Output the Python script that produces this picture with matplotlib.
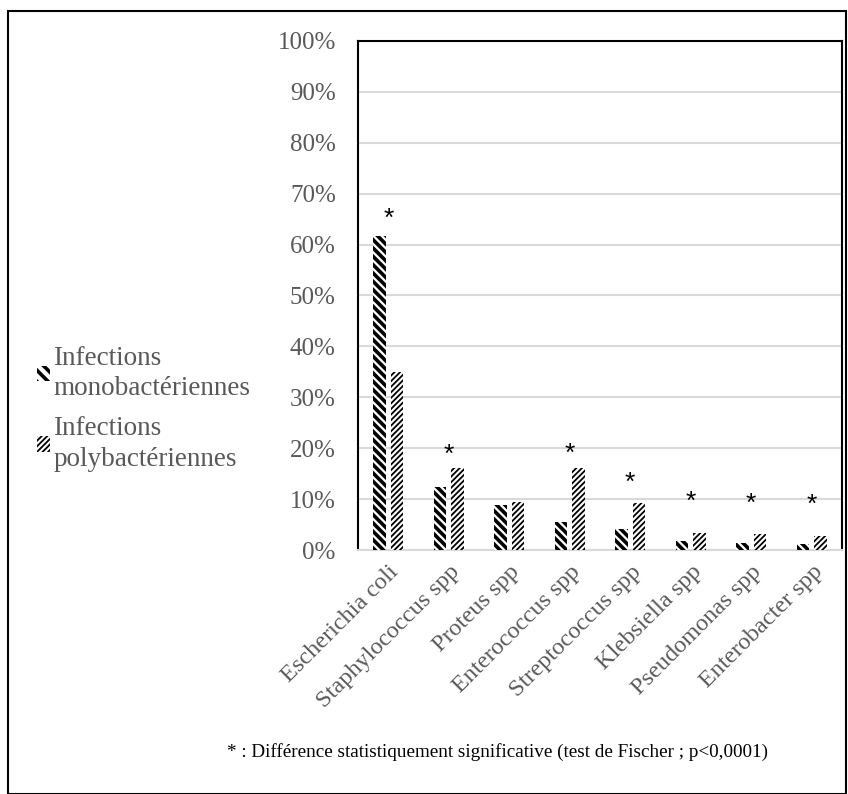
import matplotlib.pyplot as plt
import matplotlib.patches as mpatches
from matplotlib.legend_handler import HandlerPatch
import numpy as np

plt.rcParams['font.family'] = ['Liberation Serif', 'DejaVu Serif']

categories = ['Escherichia coli', 'Staphylococcus spp', 'Proteus spp', 'Enterococcus spp',
              'Streptococcus spp', 'Klebsiella spp', 'Pseudomonas spp', 'Enterobacter spp']
mono = [61.6, 12.4, 8.8, 5.5, 4.1, 1.8, 1.4, 1.1]
poly = [35.0, 16.1, 9.4, 16.1, 9.2, 3.3, 3.1, 2.8]
# significance stars: category index and height of the star (%)
star_idx = [0, 1, 3, 4, 5, 6, 7]
star_y = [65.0, 18.7, 18.9, 13.2, 9.5, 9.1, 8.9]

labels = ['Infections\nmonobactériennes', 'Infections\npolybactériennes']
note = '* : Différence statistiquement significative (test de Fischer ; p<0,0001)'
grey = '#595959'

fig = plt.figure(figsize=(8.48, 7.94), dpi=100)
ax = fig.add_axes([0.4222, 0.3073, 0.5707, 0.6411])

x = np.arange(len(categories))
w = 0.21
off = 0.143
lw_mono, lw_poly = 2.6, 1.3
hatch_mono, hatch_poly = '\\\\\\\\', '//////'


def set_hlw(patch, lw):
    patch._my_hlw = lw
    if hasattr(patch, 'set_hatch_linewidth'):
        patch.set_hatch_linewidth(lw)


def copy_hlw(legend_handle, orig_handle):
    legend_handle.update_from(orig_handle)
    lw = getattr(orig_handle, '_my_hlw', None)
    if lw is not None and hasattr(legend_handle, 'set_hatch_linewidth'):
        legend_handle.set_hatch_linewidth(lw)


plt.rcParams['hatch.linewidth'] = lw_mono
b1 = ax.bar(x - off, mono, w, color='white', edgecolor='black', linewidth=0,
            hatch=hatch_mono, zorder=3)
h1 = mpatches.Patch(facecolor='white', edgecolor='black', linewidth=0, hatch='\\\\\\')
for p in list(b1) + [h1]:
    set_hlw(p, lw_mono)
plt.rcParams['hatch.linewidth'] = lw_poly
b2 = ax.bar(x + off, poly, w, color='white', edgecolor='black', linewidth=0,
            hatch=hatch_poly, zorder=3)
h2 = mpatches.Patch(facecolor='white', edgecolor='black', linewidth=0, hatch=hatch_poly)
for p in list(b2) + [h2]:
    set_hlw(p, lw_poly)

for i, yv in zip(star_idx, star_y):
    ax.text(x[i], yv, '*', ha='center', va='center', fontsize=19,
            family='Liberation Sans', color='black')

ax.set_xlim(-0.5, len(categories) - 0.5)
ax.set_ylim(0, 100)
ax.set_yticks(np.arange(0, 101, 10))
ax.set_yticklabels([f'{v}%' for v in range(0, 101, 10)])
ax.yaxis.grid(True, color='#d9d9d9', linewidth=1.5, zorder=0)
ax.set_axisbelow(True)
ax.tick_params(axis='y', length=0, pad=16, labelsize=18, labelcolor=grey)
ax.tick_params(axis='x', length=0, pad=8, labelsize=17.5, labelcolor=grey)
ax.set_xticks(x)
ax.set_xticklabels(categories, rotation=45, ha='right', rotation_mode='anchor')

for s in ['top', 'left', 'right']:
    ax.spines[s].set_color('black')
    ax.spines[s].set_linewidth(1.5)
ax.spines['bottom'].set_color('#d9d9d9')
ax.spines['bottom'].set_linewidth(1.5)

hm = {h1: HandlerPatch(update_func=copy_hlw), h2: HandlerPatch(update_func=copy_hlw)}
leg = fig.legend([h1, h2], labels, loc='center left', bbox_to_anchor=(0.024, 0.485),
                 frameon=False, fontsize=19.5, handlelength=0.5, handleheight=0.5,
                 handletextpad=0.12, labelspacing=0.55, labelcolor=grey,
                 borderpad=0.1, handler_map=hm)
for t in leg.get_texts():
    t.set_linespacing(1.3)

fig.text(0.587, 0.053, note, ha='center', va='center', fontsize=13.8, color='black')

fig.patches.append(mpatches.Rectangle((8 / 848, 0.0), 838 / 848, 1 - 11 / 794,
                                      transform=fig.transFigure, fill=False,
                                      edgecolor='black', linewidth=1.5))

fig.savefig('out.png', dpi=100)
